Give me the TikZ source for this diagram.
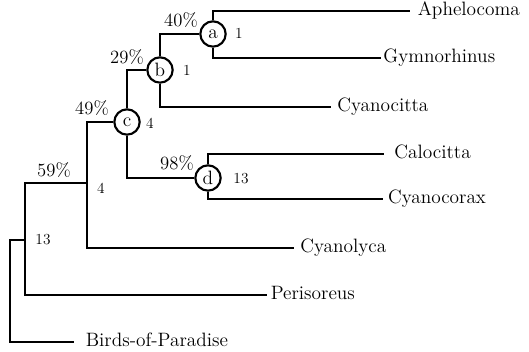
\documentclass[tikz,border=0pt]{standalone}
\begin{document}
\begin{tikzpicture}
  [x=.75pt,y=-.75pt,line width=1.7pt,
   every node/.style={font=\fontsize{14.5}{17}\selectfont},
   split/.style={circle,draw,line width=1.6pt,inner sep=0pt,minimum size=19pt},
   taxon/.style={anchor=west,inner xsep=3pt,text height=.68em,text depth=0pt},
   pct/.style={font=\fontsize{14}{16}\selectfont},
   cnt/.style={font=\fontsize{11.5}{13}\selectfont}]
  \useasboundingbox (0,0) rectangle (529,352);

  \node[split] (a) at (213,34) {a};
  \node[split] (b) at (160,70) {b};
  \node[split] (c) at (127,122) {c};
  \node[split] (d) at (208,178) {d};
  \coordinate (e) at (87,183);
  \coordinate (r) at (25,240);
  \coordinate (root) at (10,240);

  \node[taxon,inner xsep=5pt] (aph) at (410,11) {Aphelocoma};
  \node[taxon,inner xsep=1pt] (gym) at (381,58) {Gymnorhinus};
  \node[taxon,inner xsep=4pt] (cyt) at (331,107) {Cyanocitta};
  \node[taxon,inner xsep=7pt] (calo) at (384,154) {Calocitta};
  \node[taxon,inner xsep=3pt] (cyx) at (383,199) {Cyanocorax};
  \node[taxon,inner xsep=4pt] (cyl) at (294,248) {Cyanolyca};
  \node[taxon,inner xsep=2pt] (peri) at (267,295) {Perisoreus};
  \node[taxon,inner xsep=8pt] (bop) at (74,342) {Birds-of-Paradise};

  \node[pct] (pa) at (181,20) {40\%};
  \node[pct] (pb) at (127,57) {29\%};
  \node[pct] (pc) at (92,108) {49\%};
  \node[pct] (pd) at (177,163) {98\%};
  \node[pct] (pe) at (54,170) {59\%};

  \node[cnt] (na) at (239,33) {1};
  \node[cnt] (nb) at (187,70) {1};
  \node[cnt] (nc) at (150,123) {4};
  \node[cnt] (nd) at (241,179) {13};
  \node[cnt] (ne) at (101,188) {4};
  \node[cnt] (nr) at (43,240) {13};

  \foreach \from/\to in {a/aph,a/gym,b/a,b/cyt,c/b,c/d,d/calo,d/cyx,
  e/c,e/cyl,r/e,r/peri}
    \draw (\from) |- (\to);
  \draw (r) -- (root) |- (bop);

\end{tikzpicture}
\end{document}
